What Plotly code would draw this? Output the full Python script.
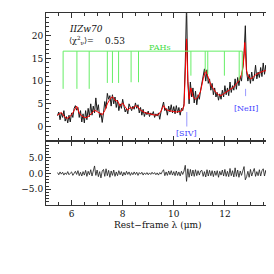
import plotly.graph_objects as go

# observed spectrum (rest-frame wavelength in micron, flux)
wave = [
    5.45, 5.50, 5.55, 5.60, 5.65, 5.70, 5.75, 5.80, 5.85, 5.90, 5.95, 6.00, 6.05, 6.10, 6.15, 6.20, 6.25, 6.30, 6.35, 6.40,
    6.45, 6.50, 6.55, 6.60, 6.65, 6.70, 6.75, 6.80, 6.85, 6.90, 6.95, 7.00, 7.05, 7.10, 7.15, 7.20, 7.25, 7.30, 7.35, 7.40,
    7.45, 7.50, 7.55, 7.60, 7.65, 7.70, 7.75, 7.80, 7.85, 7.90, 7.95, 8.00, 8.05, 8.10, 8.15, 8.20, 8.25, 8.30, 8.35, 8.40,
    8.45, 8.50, 8.55, 8.60, 8.65, 8.70, 8.75, 8.80, 8.85, 8.90, 8.95, 9.00, 9.05, 9.10, 9.15, 9.20, 9.25, 9.30, 9.35, 9.40,
    9.45, 9.50, 9.55, 9.60, 9.65, 9.70, 9.75, 9.80, 9.85, 9.90, 9.95, 10.00, 10.05, 10.10, 10.15, 10.20, 10.25, 10.30, 10.35, 10.40,
    10.45, 10.50, 10.55, 10.60, 10.65, 10.70, 10.75, 10.80, 10.85, 10.90, 10.95, 11.00, 11.05, 11.10, 11.15, 11.20, 11.25, 11.30, 11.35, 11.40,
    11.45, 11.50, 11.55, 11.60, 11.65, 11.70, 11.75, 11.80, 11.85, 11.90, 11.95, 12.00, 12.05, 12.10, 12.15, 12.20, 12.25, 12.30, 12.35, 12.40,
    12.45, 12.50, 12.55, 12.60, 12.65, 12.70, 12.75, 12.80, 12.85, 12.90, 12.95, 13.00, 13.05, 13.10, 13.15, 13.20, 13.25, 13.30, 13.35, 13.40,
    13.45, 13.50, 13.55, 13.60, 13.65, 13.70, 13.75, 13.80, 13.85, 13.90, 13.95,
]
flux = [
    2.4, 3.2, 1.5, 3.0, 2.0, 3.5, 1.2, 2.2, 0.8, 2.5, 1.0, 3.0, 2.0, 4.0, 4.6, 3.6, 4.2, 2.0, 3.5, 1.0,
    2.8, 0.8, 3.5, 1.5, 4.0, 2.2, 5.0, 2.5, 4.5, 3.0, 6.3, 3.5, 4.8, 2.0, 3.0, 0.9, 3.0, 5.5, 4.0, 7.3,
    6.0, 6.8, 4.5, 7.0, 5.0, 6.5, 4.2, 5.8, 3.5, 5.0, 4.0, 6.0, 4.5, 3.2, 4.0, 2.8, 5.0, 4.2, 3.5, 4.5,
    3.8, 5.2, 4.0, 4.8, 3.0, 4.2, 2.5, 3.8, 2.2, 3.2, 2.6, 3.4, 2.2, 3.0, 2.5, 3.3, 2.0, 2.8, 2.3, 3.0,
    1.6, 3.2, 4.2, 5.4, 3.5, 4.0, 2.5, 4.5, 3.2, 4.8, 3.0, 4.4, 2.8, 4.6, 3.0, 4.2, 2.5, 4.0, 3.5, 5.0,
    14.0, 27.0, 10.0, 5.0, 9.8, 6.5, 8.5, 5.2, 7.8, 4.8, 7.0, 6.0, 8.0, 9.5, 11.5, 12.7, 10.0, 12.5, 9.5, 10.5,
    8.0, 9.5, 7.0, 8.5, 6.5, 7.5, 5.8, 7.2, 6.0, 8.0, 6.5, 9.0, 7.0, 8.5, 6.8, 9.8, 7.5, 9.0, 8.0, 10.5,
    8.2, 10.8, 9.0, 11.0, 10.0, 13.0, 16.0, 22.2, 12.0, 10.0, 11.5, 9.5, 12.0, 10.0, 11.0, 13.5, 10.5, 12.0, 10.8, 13.0,
    11.0, 14.0, 11.5, 13.5, 11.0, 12.5, 11.8, 13.5, 11.5, 14.0, 12.0,
]
# residuals (same wavelength grid)
resid = [
    0.3, -0.4, 0.5, -0.2, 0.4, -0.5, 0.2, -0.3, 0.6, -0.4, 0.1, 0.5, -0.6, 0.3, 0.7, -0.3, 0.9, -0.7, 0.4, -0.8,
    0.6, -0.5, 1.0, -0.9, 0.7, -0.4, 1.2, -0.8, 0.5, 2.4, -0.6, 1.1, -1.0, 0.6, -1.4, 0.8, 1.3, -0.9, 1.5, -0.7,
    1.0, -1.2, 0.8, -0.6, 1.1, -0.9, 0.5, -0.7, 0.9, -0.4, 0.6, -0.8, 0.4, -0.5, 0.7, -0.3, 0.5, -0.6, 0.3, -0.4,
    0.5, -0.3, 0.4, -0.6, 0.3, -0.2, 0.4, -0.5, 0.2, -0.3, 0.3, -0.4, 0.2, -0.3, 0.4, -0.2, 0.3, -0.4, 0.2, -0.5,
    0.3, -0.2, 0.6, 1.2, -0.7, 0.5, -0.6, 0.8, -0.4, 0.9, -0.5, 0.6, -0.7, 0.8, -0.6, 0.5, -0.8, 0.7, -0.3, 0.8,
    2.6, -2.5, 1.5, -1.2, 1.3, -0.8, 1.1, -0.9, 1.2, -0.7, 0.9, -0.5, 0.8, 1.0, -0.9, 0.6, -1.1, 1.2, -0.8, 1.0,
    -0.7, 0.9, -1.0, 0.8, -0.6, 0.9, -1.2, 0.7, -0.5, 1.1, -0.8, 1.3, -0.9, 0.7, -1.0, 1.6, -0.7, 0.9, -1.1, 1.8,
    -0.9, 1.1, -1.2, 0.8, -0.6, 1.0, 2.2, -2.0, -1.0, 0.7, -1.2, 1.3, -0.8, 0.5, 1.6, -0.9, 0.6, -0.7, 1.2, -0.8,
    0.9, 1.5, -0.8, 1.0, -1.2, 0.4, -0.6, 1.1, -0.9, 1.3, -0.3,
]

# fitted model
model_wave = [
    5.45, 5.55, 5.60, 5.70, 5.80, 5.90, 6.00, 6.10, 6.20, 6.30, 6.40, 6.50, 6.60, 6.70, 6.80, 6.90, 7.00, 7.10, 7.20, 7.30,
    7.40, 7.50, 7.60, 7.70, 7.80, 7.90, 8.00, 8.10, 8.20, 8.30, 8.40, 8.50, 8.60, 8.70, 8.80, 8.90, 9.00, 9.10, 9.20, 9.30,
    9.40, 9.50, 9.60, 9.70, 9.80, 9.90, 10.00, 10.10, 10.20, 10.30, 10.40, 10.45, 10.50, 10.55, 10.60, 10.67, 10.75, 10.85, 10.95, 11.05,
    11.15, 11.25, 11.35, 11.45, 11.55, 11.65, 11.75, 11.85, 11.95, 12.05, 12.15, 12.25, 12.35, 12.45, 12.55, 12.65, 12.72, 12.78, 12.84, 12.90,
    13.00, 13.10, 13.20, 13.30, 13.40, 13.50, 13.60, 13.70, 13.80, 13.95,
]
model_flux = [
    2.5, 2.8, 3.1, 2.3, 1.8, 2.0, 2.6, 3.5, 4.5, 3.0, 2.3, 2.0, 2.0, 2.4, 3.0, 3.6, 3.3, 2.9, 2.6, 3.5,
    5.0, 6.0, 6.6, 5.8, 5.6, 4.5, 5.2, 4.3, 3.6, 4.2, 4.0, 4.6, 4.3, 3.6, 3.3, 3.0, 2.9, 2.7, 2.6, 2.5,
    2.6, 3.4, 4.6, 3.7, 3.5, 3.4, 3.3, 3.2, 3.3, 3.4, 4.5, 11.0, 19.3, 10.0, 6.0, 8.5, 6.6, 6.0, 6.5, 7.8,
    10.5, 12.3, 10.8, 9.2, 8.3, 7.5, 7.0, 6.8, 7.2, 7.6, 7.8, 8.3, 8.7, 9.4, 10.1, 11.5, 13.5, 18.5, 12.5, 11.2,
    10.5, 10.8, 11.4, 11.7, 12.0, 12.2, 12.3, 12.3, 12.4, 12.7,
]

# PAH feature markers
pah_wave = [5.67, 6.21, 6.69, 7.40, 7.60, 7.84, 8.33, 8.62, 10.67, 11.23, 11.33, 11.98, 12.56, 12.68]
pah_bottom = [8.3, 8.3, 8.3, 9.6, 9.6, 9.6, 9.75, 9.75, 11.2, 12.0, 11.5, 11.2, 10.1, 11.2]
pah_level = 16.6

# fine-structure lines
ion_wave = [10.51, 12.81]
ion_label = ["[SIV]", "[NeII]"]
ion_top = [3.2, 8.3]
ion_bottom = [0.0, 6.7]
ion_label_y = [-1.6, 3.9]

# tick labels
x_ticks = [6, 8, 10, 12]
y_ticks = [0, 5, 10, 15, 20]
res_ticks = [-5, 0, 5]

FONT = "DejaVu Serif"

fig = go.Figure()
fig.add_trace(go.Scatter(x=wave, y=flux, mode="lines", line=dict(color="#1a1a1a", width=1),
                         xaxis="x", yaxis="y", showlegend=False))
fig.add_trace(go.Scatter(x=model_wave, y=model_flux, mode="lines", line=dict(color="#ff0000", width=1),
                         xaxis="x", yaxis="y", showlegend=False))

px_, py_ = [pah_wave[0], pah_wave[-1], None], [pah_level, pah_level, None]
for w, b in zip(pah_wave, pah_bottom):
    px_ += [w, w, None]
    py_ += [pah_level, b, None]
fig.add_trace(go.Scatter(x=px_, y=py_, mode="lines", line=dict(color="#66ee66", width=1),
                         xaxis="x", yaxis="y", showlegend=False))

ix, iy = [], []
for w, t, b in zip(ion_wave, ion_top, ion_bottom):
    ix += [w, w, None]
    iy += [t, b, None]
fig.add_trace(go.Scatter(x=ix, y=iy, mode="lines", line=dict(color="#9999ff", width=1),
                         xaxis="x", yaxis="y", showlegend=False))

fig.add_trace(go.Scatter(x=wave, y=resid, mode="lines", line=dict(color="#1a1a1a", width=0.8),
                         xaxis="x2", yaxis="y2", showlegend=False))

for w, lab, ly in zip(ion_wave, ion_label, ion_label_y):
    fig.add_annotation(x=w, y=ly, xref="x", yref="y", text=lab, showarrow=False,
                       font=dict(family=FONT, size=8, color="#4444ff"))
fig.add_annotation(x=9.45, y=17.5, xref="x", yref="y", text="PAHs", showarrow=False,
                   font=dict(family=FONT, size=8, color="#44dd44"))
fig.add_annotation(x=5.84, y=21.5, xref="x", yref="y", text="<i>IIZw70</i>", showarrow=False,
                   xanchor="left", font=dict(family=FONT, size=9, color="#111"))
fig.add_annotation(x=5.84, y=18.9, xref="x", yref="y", text="⟨χ<sup>2</sup><sub>ν</sub>⟩=",
                   showarrow=False, xanchor="left", font=dict(family=FONT, size=8, color="#111"))
fig.add_annotation(x=7.22, y=18.9, xref="x", yref="y", text="0.53", showarrow=False,
                   xanchor="left", font=dict(family=FONT, size=9, color="#111"))
fig.add_annotation(x=0.489, y=-0.104, xref="paper", yref="paper", text="Rest−frame λ (μm)",
                   showarrow=False, yanchor="middle", font=dict(family=FONT, size=9, color="#111"))

axcommon = dict(showline=True, linecolor="#333", linewidth=1, mirror="ticks", ticks="inside",
                ticklen=5, tickcolor="#333", zeroline=False, showgrid=False, tickmode="array",
                tickfont=dict(family=FONT, size=9, color="#111"))

def minor(step):
    return dict(tickmode="linear", tick0=0, dtick=step, ticks="inside", ticklen=3, tickcolor="#333")

fig.update_layout(
    width=274, height=274,
    margin=dict(l=38, r=6, t=5, b=77),
    paper_bgcolor="white", plot_bgcolor="white",
    xaxis=dict(domain=[0, 1], anchor="y", range=[5, 14], tickvals=x_ticks, showticklabels=False,
               minor=minor(0.5), **axcommon),
    yaxis=dict(domain=[0.333, 1], anchor="x", range=[-3.2, 25], tickvals=y_ticks,
               minor=minor(1), **axcommon),
    xaxis2=dict(domain=[0, 1], anchor="y2", range=[5, 14], tickvals=x_ticks,
                minor=minor(0.5), **axcommon),
    yaxis2=dict(domain=[0, 0.333], anchor="x2", range=[-10, 10.3], tickvals=res_ticks,
                tickformat=".1f", minor=minor(1), **axcommon),
)

fig.write_html("out.html")
